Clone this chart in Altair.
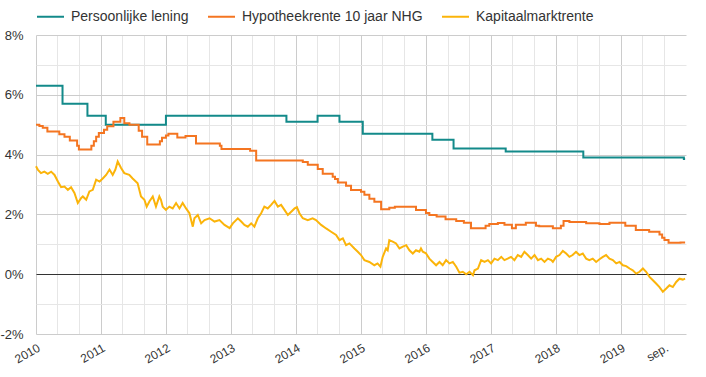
import altair as alt
import pandas as pd

SERIES = ["Persoonlijke lening", "Hypotheekrente 10 jaar NHG", "Kapitaalmarktrente"]
COLORS = ["#138a8a", "#f47521", "#fbb40a"]

# Persoonlijke lening (step series)
lening_dates = ["2010-01-01", "2010-05-30", "2010-10-17", "2011-01-28", "2012-01-01",
                "2013-11-08", "2014-05-02", "2014-09-02", "2015-01-11", "2016-02-06",
                "2016-06-04", "2017-03-24", "2018-06-03", "2019-12-20", "2019-12-27"]
lening_values = [6.3, 5.7, 5.3, 5.0, 5.3, 5.1, 5.3, 5.1, 4.7, 4.5, 4.2, 4.1, 3.9, 3.85, 3.85]

# Hypotheekrente 10 jaar NHG (step series)
hypo_dates = ["2010-01-01", "2010-01-20", "2010-02-08", "2010-03-06", "2010-05-12", "2010-06-10",
              "2010-07-10", "2010-08-20", "2010-08-30", "2010-11-08", "2010-11-22", "2010-12-05",
              "2010-12-20", "2011-01-18", "2011-02-05", "2011-03-12", "2011-04-20", "2011-05-12",
              "2011-06-10", "2011-08-01", "2011-08-20", "2011-09-18", "2011-11-28", "2011-12-10",
              "2012-01-01", "2012-01-15", "2012-03-05", "2012-04-20", "2012-06-18", "2012-10-30",
              "2012-11-08", "2013-04-18", "2013-05-22", "2014-02-08", "2014-03-08", "2014-05-03",
              "2014-05-31", "2014-07-26", "2014-08-08", "2014-08-24", "2014-10-09", "2014-11-06",
              "2015-01-01", "2015-01-20", "2015-02-17", "2015-03-17", "2015-04-24", "2015-06-09",
              "2015-07-10", "2015-11-06", "2016-01-01", "2016-01-20", "2016-03-01", "2016-04-20",
              "2016-06-19", "2016-08-01", "2016-09-10", "2016-12-01", "2016-12-22", "2017-02-08",
              "2017-03-17", "2017-04-28", "2017-05-20", "2017-07-15", "2017-09-10", "2017-09-28",
              "2017-12-14", "2018-01-28", "2018-02-12", "2018-03-17", "2018-06-19", "2018-09-02",
              "2018-10-28", "2019-01-25", "2019-03-25", "2019-06-08", "2019-08-05", "2019-08-20",
              "2019-09-02", "2019-09-25", "2019-12-01", "2019-12-27"]
hypo_values = [5.00, 4.96, 4.90, 4.77, 4.68, 4.60,
               4.47, 4.30, 4.17, 4.30, 4.45, 4.60,
               4.72, 4.83, 4.95, 5.10, 5.22, 5.05,
               5.00, 4.80, 4.60, 4.34, 4.45, 4.56,
               4.64, 4.70, 4.57, 4.62, 4.37, 4.30,
               4.19, 4.13, 3.80, 3.75, 3.66, 3.52,
               3.36, 3.26, 3.18, 3.07, 2.96, 2.82,
               2.76, 2.66, 2.52, 2.42, 2.17, 2.22,
               2.26, 2.15, 2.05, 1.98, 1.93, 1.84,
               1.78, 1.72, 1.54, 1.62, 1.68, 1.71,
               1.65, 1.54, 1.65, 1.72, 1.62, 1.60,
               1.54, 1.62, 1.78, 1.75, 1.70, 1.68,
               1.72, 1.62, 1.48, 1.42, 1.33, 1.22,
               1.14, 1.05, 1.06, 1.06]

# Kapitaalmarktrente
kap_dates = ["2010-01-01", "2010-01-11", "2010-01-29", "2010-02-17", "2010-03-08", "2010-03-27",
             "2010-04-15", "2010-05-04", "2010-05-22", "2010-06-10", "2010-06-29", "2010-07-17",
             "2010-08-05", "2010-08-24", "2010-09-12", "2010-09-21", "2010-10-10", "2010-10-28",
             "2010-11-16", "2010-12-05", "2010-12-24", "2011-01-11", "2011-01-30", "2011-02-18",
             "2011-03-08", "2011-03-23", "2011-04-05", "2011-04-24", "2011-05-12", "2011-06-09",
             "2011-06-28", "2011-07-26", "2011-08-14", "2011-09-02", "2011-09-15", "2011-09-30",
             "2011-10-19", "2011-11-06", "2011-11-25", "2011-12-04", "2011-12-14", "2012-01-01",
             "2012-01-20", "2012-02-08", "2012-02-27", "2012-03-17", "2012-04-04", "2012-04-23",
             "2012-05-12", "2012-05-31", "2012-06-09", "2012-06-28", "2012-07-17", "2012-08-05",
             "2012-09-02", "2012-09-30", "2012-10-28", "2012-11-25", "2012-12-24", "2013-01-11",
             "2013-02-08", "2013-02-27", "2013-03-17", "2013-04-05", "2013-04-24", "2013-05-12",
             "2013-05-31", "2013-06-19", "2013-07-07", "2013-07-26", "2013-08-14", "2013-09-02",
             "2013-09-21", "2013-10-09", "2013-10-28", "2013-11-16", "2013-12-05", "2013-12-24",
             "2014-01-06", "2014-01-20", "2014-02-08", "2014-03-08", "2014-04-04", "2014-04-23",
             "2014-05-22", "2014-06-19", "2014-07-17", "2014-08-14", "2014-09-02", "2014-09-21",
             "2014-10-09", "2014-10-28", "2014-11-25", "2014-12-14", "2015-01-01", "2015-01-20",
             "2015-02-17", "2015-03-17", "2015-04-04", "2015-04-20", "2015-05-03", "2015-05-22",
             "2015-05-31", "2015-06-09", "2015-06-28", "2015-07-17", "2015-08-05", "2015-08-24",
             "2015-09-12", "2015-09-30", "2015-10-19", "2015-11-06", "2015-11-25", "2015-12-04",
             "2015-12-14", "2016-01-01", "2016-01-20", "2016-02-08", "2016-02-27", "2016-03-17",
             "2016-04-04", "2016-04-23", "2016-05-12", "2016-05-31", "2016-06-19", "2016-07-07",
             "2016-07-26", "2016-08-14", "2016-09-02", "2016-09-21", "2016-09-30", "2016-10-19",
             "2016-11-06", "2016-11-25", "2016-12-14", "2017-01-01", "2017-01-20", "2017-02-08",
             "2017-02-27", "2017-03-17", "2017-04-04", "2017-04-23", "2017-05-12", "2017-05-31",
             "2017-06-19", "2017-07-07", "2017-07-26", "2017-08-14", "2017-09-02", "2017-09-21",
             "2017-10-09", "2017-10-28", "2017-11-16", "2017-12-05", "2017-12-14", "2018-01-01",
             "2018-01-20", "2018-02-08", "2018-02-27", "2018-03-17", "2018-04-04", "2018-04-23",
             "2018-05-12", "2018-05-31", "2018-06-19", "2018-07-07", "2018-07-26", "2018-08-14",
             "2018-09-02", "2018-09-21", "2018-10-09", "2018-10-28", "2018-11-16", "2018-12-05",
             "2018-12-24", "2019-01-11", "2019-01-30", "2019-02-18", "2019-03-08", "2019-03-27",
             "2019-04-15", "2019-05-04", "2019-05-22", "2019-06-10", "2019-06-29", "2019-07-17",
             "2019-08-05", "2019-08-24", "2019-09-12", "2019-09-30", "2019-10-19", "2019-11-07",
             "2019-11-25", "2019-12-14", "2019-12-27"]
kap_values = [3.61, 3.50, 3.38, 3.43, 3.36, 3.43,
              3.32, 3.10, 2.91, 2.93, 2.82, 2.91,
              2.72, 2.38, 2.55, 2.60, 2.49, 2.77,
              2.82, 3.16, 3.10, 3.20, 3.32, 3.50,
              3.32, 3.50, 3.77, 3.55, 3.38, 3.32,
              3.20, 3.04, 2.60, 2.49, 2.26, 2.43,
              2.60, 2.26, 2.60, 2.49, 2.26, 2.15,
              2.26, 2.20, 2.38, 2.20, 2.38, 2.20,
              2.04, 1.59, 1.87, 1.98, 1.70, 1.81,
              1.87, 1.76, 1.81, 1.65, 1.54, 1.70,
              1.87, 1.76, 1.65, 1.59, 1.70, 1.59,
              1.87, 2.04, 2.26, 2.20, 2.32, 2.45,
              2.26, 2.32, 2.15, 1.98, 2.09, 2.20,
              2.24, 2.04, 1.87, 1.81, 1.87, 1.81,
              1.65, 1.53, 1.42, 1.31, 1.14, 1.20,
              0.97, 1.03, 0.86, 0.75, 0.64, 0.47,
              0.41, 0.30, 0.36, 0.25, 0.58, 0.86,
              0.80, 1.14, 1.09, 1.03, 0.86, 0.92,
              0.97, 0.80, 0.69, 0.80, 0.75, 0.86,
              0.75, 0.70, 0.52, 0.41, 0.30, 0.41,
              0.30, 0.47, 0.36, 0.41, 0.25, 0.05,
              0.08, 0.00, 0.08, -0.03, 0.13, 0.19,
              0.47, 0.41, 0.47, 0.36, 0.52, 0.47,
              0.58, 0.47, 0.52, 0.58, 0.47, 0.64,
              0.58, 0.75, 0.64, 0.52, 0.64, 0.47,
              0.52, 0.41, 0.52, 0.47, 0.41, 0.58,
              0.64, 0.78, 0.69, 0.58, 0.64, 0.75,
              0.64, 0.69, 0.52, 0.47, 0.52, 0.41,
              0.50, 0.58, 0.64, 0.52, 0.47, 0.36,
              0.41, 0.30, 0.27, 0.19, 0.13, 0.02,
              0.08, 0.19, 0.08, -0.09, -0.20, -0.31,
              -0.43, -0.59, -0.48, -0.37, -0.43, -0.26,
              -0.15, -0.18, -0.15]

# axis tick definitions
tick_years = list(range(2010, 2020))
grid_months = [1, 5, 9]
extra_label = (2019, 9, "sep.")
y_ticks = list(range(-2, 9))

FONT = "Liberation Sans"
TEXT = "#333333"

df_l = pd.DataFrame({"date": lening_dates, "rente": lening_values, "reeks": SERIES[0]})
df_h = pd.DataFrame({"date": hypo_dates, "rente": hypo_values, "reeks": SERIES[1]})
df_k = pd.DataFrame({"date": kap_dates, "rente": kap_values, "reeks": SERIES[2]})

x_values = [alt.DateTime(year=y, month=m, date=1, utc=True) for y in tick_years for m in grid_months]
label_expr = (
    "utcmonth(datum.value) == 0 ? utcFormat(datum.value, '%Y') : "
    f"((utcyear(datum.value) == {extra_label[0]} && utcmonth(datum.value) == {extra_label[1] - 1}) ? '{extra_label[2]}' : '')"
)

x_axis = alt.Axis(
    values=x_values,
    labelExpr=label_expr,
    labelAngle=-30,
    labelAlign="right",
    labelBaseline="top",
    labelPadding=8,
    labelFontSize=12,
    labelOverlap=False,
    labelBound=False,
    domain=False,
    ticks=False,
    gridColor={"condition": {"test": "utcmonth(datum.value) == 0", "value": "#cccccc"}, "value": "#e6e6e6"},
    title=None,
)
y_axis = alt.Axis(
    values=y_ticks,
    labelExpr="datum.value % 2 == 0 ? datum.value + '%' : ''",
    labelPadding=13,
    labelFontSize=13,
    labelOverlap=False,
    domain=False,
    ticks=False,
    gridColor={"condition": [{"test": "datum.value == 0", "value": "#333333"},
                             {"test": "datum.value % 2 == 0", "value": "#cccccc"}],
               "value": "#e6e6e6"},
    title=None,
)

x_enc = alt.X("date:T", scale=alt.Scale(type="utc", nice=False,
              domain=[alt.DateTime(year=2010, month=1, date=1, utc=True),
                      alt.DateTime(year=2020, month=1, date=1, utc=True)]),
              axis=x_axis)
y_enc = alt.Y("rente:Q", scale=alt.Scale(domain=[-2, 8], nice=False), axis=y_axis)
color_enc = alt.Color(
    "reeks:N",
    scale=alt.Scale(domain=SERIES, range=COLORS),
    legend=alt.Legend(
        orient="none", legendX=0, legendY=-33, direction="horizontal", title=None,
        symbolType="stroke", symbolSize=729, symbolStrokeWidth=2,
        labelFontSize=14, labelFont=FONT, labelColor=TEXT, labelOffset=6,
        columnPadding=15, labelLimit=400,
    ),
)

l_teal = alt.Chart(df_l).mark_line(interpolate="step-after", strokeWidth=2).encode(x=x_enc, y=y_enc, color=color_enc)
l_orange = alt.Chart(df_h).mark_line(interpolate="step-after", strokeWidth=2).encode(x=x_enc, y=y_enc, color=color_enc)
l_yellow = alt.Chart(df_k).mark_line(strokeWidth=2).encode(x=x_enc, y=y_enc, color=color_enc)

chart = alt.layer(l_teal, l_orange, l_yellow).properties(
    width=650, height=299,
    padding={"left": 36, "top": 35, "right": 20, "bottom": 43},
    autosize=alt.AutoSizeParams(type="none"),
).configure_view(stroke=None).configure_axis(
    labelFont=FONT, labelColor=TEXT, gridWidth=1
)

chart.save("out.html", embed_options={"renderer": "svg", "actions": False})
